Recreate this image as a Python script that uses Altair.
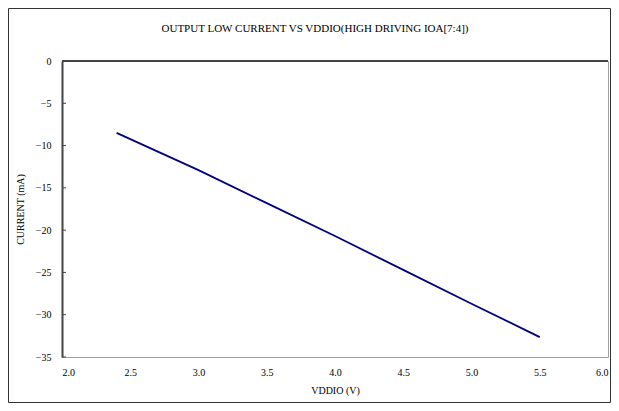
import altair as alt
import pandas as pd

# Data
vddio = [2.4, 3.0, 3.5, 4.0, 4.5, 5.0, 5.5]
current = [-8.5, -12.9, -16.8, -20.7, -24.7, -28.7, -32.65]
y_ticks = [0, -5, -10, -15, -20, -25, -30, -35]
x_ticks = [2.0, 2.5, 3.0, 3.5, 4.0, 4.5, 5.0, 5.5, 6.0]
title_text = "OUTPUT LOW CURRENT VS VDDIO(HIGH DRIVING IOA[7:4])"

df = pd.DataFrame({"VDDIO": vddio, "CURRENT": current})
tick_df = pd.DataFrame({"t": y_ticks})
one = pd.DataFrame({"a": [0]})
title_df = pd.DataFrame({"title": [title_text]})

FONT = "Times New Roman, Liberation Serif, DejaVu Serif, serif"
W, H = 546, 296

xscale = alt.Scale(domain=[2.0, 6.0], nice=False, zero=False)
yscale = alt.Scale(domain=[-35, 0], nice=False, zero=False)

line = alt.Chart(df).mark_line(color="#000080", strokeWidth=1.8).encode(
    x=alt.X("VDDIO:Q", scale=xscale,
            axis=alt.Axis(title="VDDIO (V)", values=x_ticks, format=".1f",
                          domain=False, ticks=False, grid=False,
                          labelPadding=10, titlePadding=8)),
    y=alt.Y("CURRENT:Q", scale=yscale,
            axis=alt.Axis(title="CURRENT (mA)", values=y_ticks, format="d",
                          domain=True, domainColor="#444444", domainWidth=2,
                          ticks=False, grid=False, labelPadding=11,
                          titlePadding=10)),
)

# inward-pointing y ticks
yt = alt.Chart(tick_df).mark_rule(color="#444444", strokeWidth=1).encode(
    y=alt.Y("t:Q", scale=yscale),
    x=alt.value(0), x2=alt.value(4),
)

# dark top line (horizontal axis crossing at 0)
top = alt.Chart(one).mark_rule(color="#444444", strokeWidth=2).encode(
    y=alt.value(0),
    x=alt.value(0), x2=alt.value(W),
)

# outer chart border
border = alt.Chart(one).mark_rect(fill=None, stroke="#333333", strokeWidth=1).encode(
    x=alt.value(-53.5), x2=alt.value(548.5),
    y=alt.value(-52.5), y2=alt.value(341.5),
)

title = alt.Chart(title_df).mark_text(
    font=FONT, fontSize=11, color="#000000", align="center", baseline="alphabetic"
).encode(
    text="title:N",
    x=alt.value(W / 2 - 20), y=alt.value(-29),
)

chart = alt.layer(border, line, yt, top, title).properties(
    width=W, height=H,
    padding={"left": 54, "top": 53, "right": 3, "bottom": 46},
    autosize=alt.AutoSizeParams(type="none"),
).configure_view(
    stroke="#a0a0a0", strokeWidth=1
).configure_axis(
    labelFont=FONT, titleFont=FONT, labelFontSize=10, titleFontSize=10,
    labelColor="#000000", titleColor="#000000", titleFontWeight="normal",
)

chart.save("out.html", embed_options={"renderer": "svg", "actions": False})
